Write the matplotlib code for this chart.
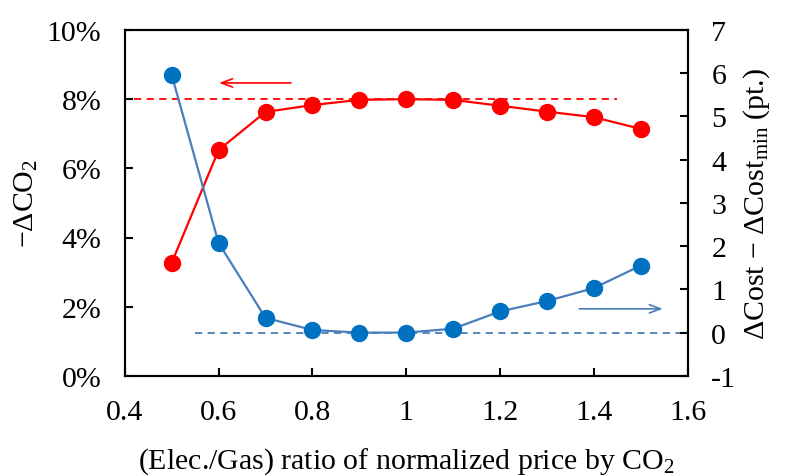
import numpy as np
import matplotlib.pyplot as plt
from matplotlib.ticker import FuncFormatter

# data
ratio = [0.5, 0.6, 0.7, 0.8, 0.9, 1.0, 1.1, 1.2, 1.3, 1.4, 1.5]
d_co2 = [3.27, 6.53, 7.63, 7.83, 7.98, 8.00, 7.98, 7.81, 7.64, 7.48, 7.14]   # %
d_cost = [5.96, 2.07, 0.34, 0.06, 0.00, 0.00, 0.09, 0.49, 0.73, 1.03, 1.55]  # pt.

CO2_REF = 8.0
COST_REF = 0.0

RED = "#FF0000"
BLUE_MK = "#0070C0"
BLUE_LN = "#4A7EBB"
FS = 21.5

plt.rcParams.update({'font.family': 'serif'})
plt.rcParams.update({'font.serif': ['Liberation Serif', 'DejaVu Serif']})
plt.rcParams.update({'mathtext.fontset': 'custom'})
plt.rcParams.update({'mathtext.rm': 'Liberation Serif'})
plt.rcParams.update({'mathtext.it': 'Liberation Serif:italic'})

fig = plt.figure(figsize=(7.85, 4.77), dpi=100)
ax = fig.add_axes([0.159, 0.210, 0.717, 0.725])
ax2 = ax.twinx()

# reference dashed lines
ax.plot([0.42, 1.45], [CO2_REF, CO2_REF], ls=(0, (4, 3)), color=RED, lw=1.3, zorder=1)
ax2.plot([0.55, 1.6], [COST_REF, COST_REF], ls=(0, (4, 3)), color=BLUE_LN, lw=1.3, zorder=1)

ax.plot(ratio, d_co2, color=RED, lw=1.6, marker="o", ms=11.5,
        mfc=RED, mec=RED, zorder=3)
ax2.plot(ratio, d_cost, color=BLUE_LN, lw=1.6, marker="o", ms=11.5,
         mfc=BLUE_MK, mec=BLUE_MK, zorder=3)

# arrows indicating which axis each series belongs to
ax.annotate("", xy=(0.595, 8.47), xytext=(0.76, 8.47),
            arrowprops=dict(arrowstyle="->,head_length=0.8,head_width=0.3",
                            color=RED, lw=1.2))
ax2.annotate("", xy=(1.553, 0.55), xytext=(1.363, 0.55),
             arrowprops=dict(arrowstyle="->,head_length=0.8,head_width=0.3",
                             color=BLUE_LN, lw=1.2))

ax.set_xlim(0.4, 1.6)
ax.set_ylim(0, 10)
ax2.set_ylim(-1, 7)
ax.set_xticks(np.arange(0.4, 1.61, 0.2))
ax.set_yticks(np.arange(0, 10.1, 2))
ax2.set_yticks(np.arange(-1, 7.1, 1))
ax.xaxis.set_major_formatter(FuncFormatter(lambda x, pos: f"{x:g}"))
ax.yaxis.set_major_formatter(FuncFormatter(lambda y, pos: f"{y:.0f}%"))
ax2.yaxis.set_major_formatter(FuncFormatter(lambda y, pos: f"{y:.0f}"))

for a in (ax, ax2):
    a.tick_params(direction="in", length=6, width=1.5, labelsize=FS, pad=17)
    for s in a.spines.values():
        s.set_linewidth(1.5)

ax.set_xlabel("(Elec./Gas) ratio of normalized price by CO$_2$", fontsize=FS, labelpad=14)
ax.set_ylabel("\u2212\u0394CO$_2$", fontsize=FS, labelpad=5)
ax2.set_ylabel("\u0394Cost \u2212 \u0394Cost$_{\\mathrm{min}}$ (pt.)", fontsize=FS, labelpad=4)

fig.savefig("out.png", dpi=100)
